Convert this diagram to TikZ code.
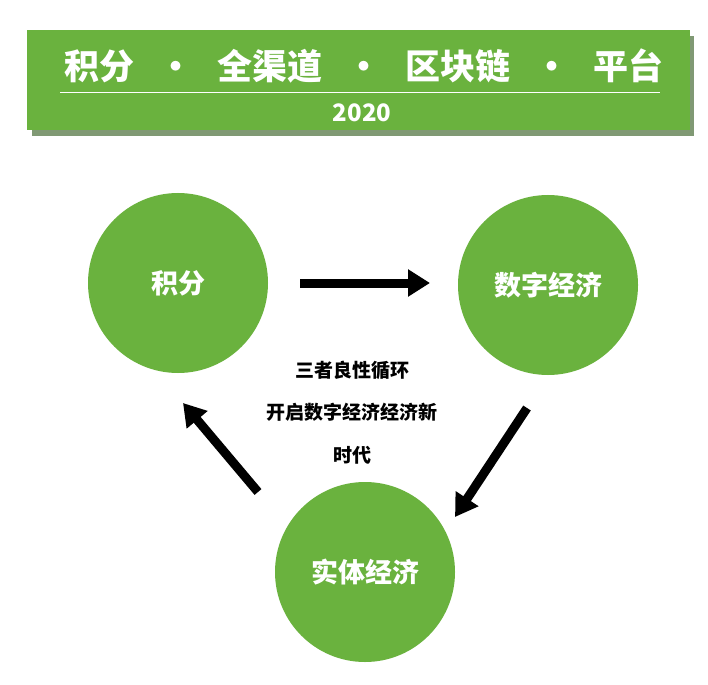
\documentclass[tikz,border=0pt]{standalone}
\usepackage{fontspec}
\newfontfamily\cjk{Noto Sans CJK SC}
\usetikzlibrary{arrows.meta}
\definecolor{grn}{HTML}{6AB23E}
\definecolor{dgrn}{HTML}{3F7A22}
\tikzset{
  circ/.style={circle,fill=grn,minimum size=180pt,inner sep=0pt,text=white,font=\cjk\bfseries\fontsize{27}{30}\selectfont},
  bigarrow/.style={line width=9pt,-{Triangle[length=22pt,width=26pt]},black},
  mid/.style={font=\cjk\bfseries\fontsize{19}{22}\selectfont}
}
\begin{document}
\begin{tikzpicture}[x=1pt,y=-1pt]
\useasboundingbox (0,0) rectangle (708,684);
\fill[white] (0,0) rectangle (708,684);
\fill[dgrn!70!black,opacity=0.6] (32,36) rectangle (694,136);
\fill[grn] (27,30) rectangle (690,130);
\node[text=white,font=\cjk\bfseries\fontsize{35}{38}\selectfont] (title) at (364,66) {积分\ \ \ ·\ \ \ 全渠道\ \ \ ·\ \ \ 区块链\ \ \ ·\ \ \ 平台};
\draw[white,line width=1pt] (60,93) -- (660,93);
\node[text=white,font=\cjk\bfseries\fontsize{24}{28}\selectfont] (year) at (362,113) {2020};
\node[circ] (a) at (178,283) {积分};
\node[circ] (b) at (548,285) {数字经济};
\node[circ] (c) at (365,572) {实体经济};
\node[mid] (t1) at (352,370) {三者良性循环};
\node[mid] (t2) at (352,412) {开启数字经济经济新};
\node[mid] (t3) at (352,455) {时代};
\coordinate (a1) at (300,283); \coordinate (a2) at (430,283);
\coordinate (b1) at (527,408); \coordinate (b2) at (455,517);
\coordinate (c1) at (258,492); \coordinate (c2) at (183,403);
\draw[bigarrow] (a1) -- (a2);
\draw[bigarrow] (b1) -- (b2);
\draw[bigarrow] (c1) -- (c2);
\end{tikzpicture}
\end{document}
